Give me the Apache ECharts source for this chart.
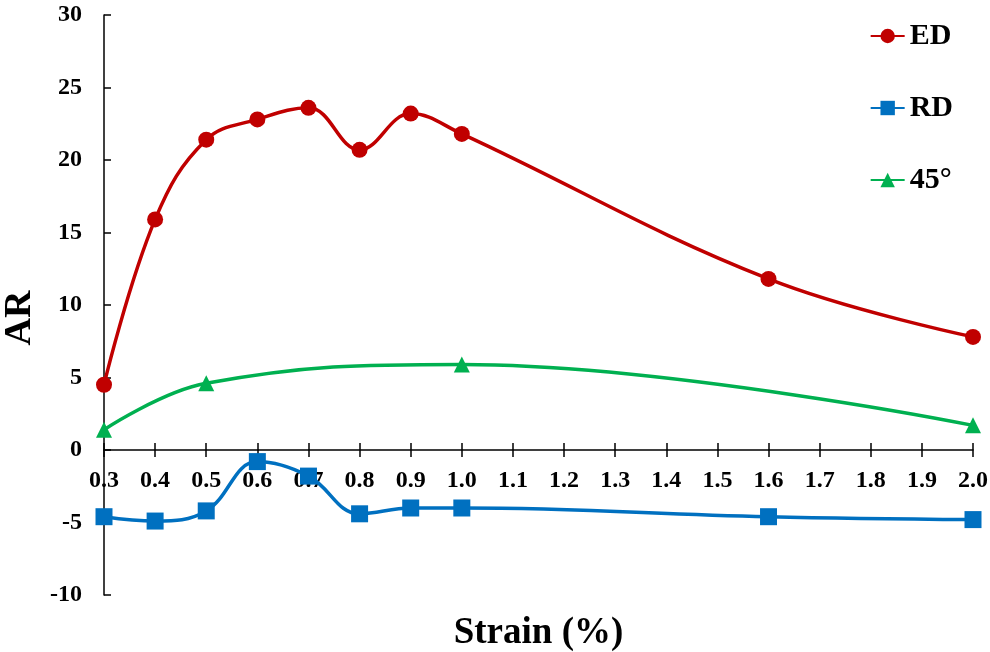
<!DOCTYPE html>
<html><head><meta charset="utf-8">
<script src="https://cdn.jsdelivr.net/npm/echarts@6/dist/echarts.min.js"></script>
<style>html,body{margin:0;padding:0;background:#fff}#c{width:990px;height:652px}</style>
</head><body><div id="c"></div>
<script>
const strainED = [0.3,0.4,0.5,0.6,0.7,0.8,0.9,1.0,1.6,2.0];
const valuesED = [4.5,15.9,21.4,22.8,23.6,20.7,23.2,21.8,11.8,7.8];
const strainRD = [0.3,0.4,0.5,0.6,0.7,0.8,0.9,1.0,1.6,2.0];
const valuesRD = [-4.6,-4.9,-4.2,-0.8,-1.8,-4.4,-4.0,-4.0,-4.6,-4.8];
const strain45 = [0.3,0.5,1.0,2.0];
const values45 = [1.4,4.6,5.9,1.7];
const seriesNames = ['ED','RD','45°'];

const font = 'Liberation Serif';
function pairs(xs, ys){ return xs.map((x,i)=>[x, ys[i]]); }
const chart = echarts.init(document.getElementById('c'));
const yMin = -10, yMax = 30;
const xMin = 0.3, xMax = 2.0;
const axisBlack = {color:'#000', width:1.5};
chart.setOption({
  animation:false,
  grid:[
    {left:104, right:17, top:15, bottom:57, outerBoundsMode:'none'},
    // upper part (y >= 0): its bottom edge is the y=0 line
    {left:104, right:17, top:15, bottom:202, outerBoundsMode:'none'},
    // lower part (y <= 0): its top edge is the y=0 line
    {left:104, right:17, top:450, bottom:57, outerBoundsMode:'none'}
  ],
  legend:{
    orient:'vertical', right:32, top:16, itemGap:42,
    itemWidth:34, itemHeight:18,
    textStyle:{fontFamily:font, fontWeight:'bold', fontSize:30, color:'#000'},
    data:seriesNames
  },
  xAxis:[
    {gridIndex:0, type:'value', min:xMin, max:xMax, interval:0.1, position:'bottom',
      axisLine:{show:false, onZero:false}, axisTick:{show:false}, axisLabel:{show:false},
      splitLine:{show:false},
      name:'Strain (%)', nameLocation:'middle', nameGap:20,
      nameTextStyle:{fontFamily:font, fontWeight:'bold', fontSize:37, color:'#000'}},
    {gridIndex:1, type:'value', min:xMin, max:xMax, interval:0.1, position:'bottom',
      axisLine:{show:true, onZero:false, lineStyle:axisBlack},
      axisTick:{show:true, inside:false, length:7, lineStyle:axisBlack},
      axisLabel:{fontFamily:font, fontWeight:'bold', fontSize:24, color:'#000', margin:19,
        formatter:v=>v.toFixed(1)},
      splitLine:{show:false}},
    {gridIndex:2, type:'value', min:xMin, max:xMax, interval:0.1, position:'top',
      axisLine:{show:false, onZero:false},
      axisTick:{show:true, inside:false, length:7, lineStyle:axisBlack},
      axisLabel:{show:false}, splitLine:{show:false}}
  ],
  yAxis:[
    {gridIndex:0, type:'value', min:yMin, max:yMax, interval:5,
      name:'AR', nameLocation:'middle', nameGap:59, nameRotate:90,
      nameTextStyle:{fontFamily:font, fontWeight:'bold', fontSize:38, color:'#000', padding:[0,26,0,0]},
      axisLine:{show:true, onZero:false, lineStyle:axisBlack},
      axisTick:{show:true, inside:true, length:7, lineStyle:axisBlack},
      axisLabel:{fontFamily:font, fontWeight:'bold', fontSize:24, color:'#000', margin:22},
      splitLine:{show:false}},
    {gridIndex:1, type:'value', min:0, max:yMax, show:false},
    {gridIndex:2, type:'value', min:yMin, max:0, show:false}
  ],
  series:[
    {name:seriesNames[0], type:'line', smooth:0.4, data:pairs(strainED, valuesED),
      symbol:'circle', symbolSize:16, color:'#C00000', lineStyle:{width:3.5}},
    {name:seriesNames[1], type:'line', smooth:0.4, data:pairs(strainRD, valuesRD),
      symbol:'rect', symbolSize:17, color:'#0070C0', lineStyle:{width:3.5}},
    {name:seriesNames[2], type:'line', smooth:0.4, data:pairs(strain45, values45),
      symbol:'triangle', symbolSize:16, color:'#00B050', lineStyle:{width:3.5}}
  ]
});
</script></body></html>
